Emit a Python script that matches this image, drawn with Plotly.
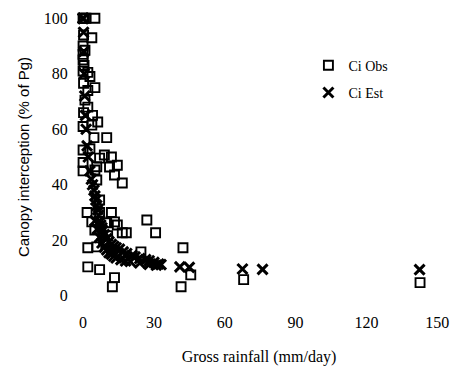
import plotly.graph_objects as go

# Observed canopy interception (Ci Obs)
obs_x = [0, 0.5, 1.2, 5.0, 0.2, 3.7, 0, 0, 0.8, 0, 0.4, 0, 2.0, 2.9, 0.2, 5.0, 2.0, 0.8, 2.0, 0.2,
         4.0, 6.2, 0, 3.7, 10.0, 4.6, 0, 2.9, 0, 0, 5.8, 7.0, 9.0, 12.0, 14.5, 11.2, 13.3, 16.6, 5.8,
         5.0, 7.0, 1.7, 7.0, 12.0, 13.3, 14.5, 10.0, 18.3, 16.6, 27.0, 30.7, 2.0, 5.8, 12.0, 24.5,
         2.0, 7.0, 13.3, 12.4, 8.7, 10.4, 5.0, 3.7, 42.3, 41.5, 45.6, 68.0, 142.7]
obs_y = [100, 100, 100, 100, 94, 93, 90, 87, 88.5, 85, 83, 81, 80.5, 79, 76.6, 75, 74, 70.5, 68, 66,
         65, 62.6, 61, 61.5, 57, 57, 52.5, 53, 48, 45, 46.5, 49.6, 50.7, 50, 47, 46.4, 43.5, 40.6, 41.7,
         45.3, 34.5, 30, 30, 30, 26.6, 25.5, 26.3, 22.7, 22.7, 27.3, 22.7, 17.3, 17.6, 16.5, 15.8,
         10.4, 9.4, 6.5, 3.2, 20, 21.6, 23.7, 26.6, 17.3, 3.2, 7.5, 5.8, 4.7]

# Estimated canopy interception (Ci Est)
est_x = [0, 0, 0, 0.2, 0.3, 0.5, 0.7, 1.0, 1.3, 1.7, 2.2, 2.9, 3.5, 4.0, 4.6, 5.0, 5.4, 5.8, 6.2,
         6.6, 7.0, 7.5, 8.0, 8.3, 9, 10, 11, 12, 13, 14, 15.4, 17, 18.5, 20.7, 22, 24, 26.5, 28, 30,
         32, 33, 5, 6, 7, 8, 9, 10, 11, 12, 13, 14, 16, 18, 20, 24, 28, 31,
         41, 45, 67.5, 76, 142.5]
est_y = [100, 100, 100, 95, 88, 80, 72, 65, 60, 54, 50, 45, 42, 40, 38, 36, 34.5, 32.5, 31,
         29, 27, 25.5, 24.5, 23.5, 22, 20.5, 19.5, 18.5, 17.8, 17.3, 16.8, 15.8, 15.2, 14.5, 14, 13.4,
         13, 12.6, 12, 11.4, 11.2, 27, 24, 21, 19, 17.5, 16.5, 15.5, 15, 14.2, 13.6, 13, 12.5, 12.3,
         11.8, 11.3, 11, 10.4, 10.2, 9.6, 9.5, 9.4]

x_ticks = [0, 30, 60, 90, 120, 150]
y_ticks = [0, 20, 40, 60, 80, 100]

FONT = "Liberation Serif"

fig = go.Figure()
fig.add_trace(go.Scatter(
    x=obs_x, y=obs_y, mode="markers", name="Ci Obs", legendgroup="a",
    marker=dict(symbol="square-open", size=9, color="black", line=dict(width=1.9, color="black")),
    cliponaxis=False,
))
fig.add_trace(go.Scatter(
    x=est_x, y=est_y, mode="markers", name="Ci Est", legendgroup="b",
    marker=dict(symbol="x-thin-open", size=10, color="black", line=dict(width=3, color="black")),
    cliponaxis=False,
))

fig.update_layout(
    width=459, height=372,
    margin=dict(l=76, r=10, t=10, b=68),
    paper_bgcolor="white", plot_bgcolor="white",
    font=dict(family=FONT, color="black", size=15),
    showlegend=True,
    legend=dict(x=0.635, y=0.865, xanchor="left", yanchor="top",
                font=dict(family=FONT, size=14, color="black"),
                bgcolor="rgba(0,0,0,0)", tracegroupgap=6, itemwidth=30),
    xaxis=dict(range=[-3, 152], tickvals=x_ticks, ticktext=[str(v) for v in x_ticks],
               showgrid=False, zeroline=False, showline=False,
               ticks="outside", ticklen=4, tickcolor="white",
               tickfont=dict(family=FONT, size=16),
               title=dict(text="Gross rainfall (mm/day)", font=dict(family=FONT, size=16), standoff=20)),
    yaxis=dict(range=[-3, 103], tickvals=y_ticks, ticktext=[str(v) for v in y_ticks],
               showgrid=False, zeroline=False, showline=False,
               ticks="outside", ticklen=4, tickcolor="white",
               tickfont=dict(family=FONT, size=16),
               title=dict(text="Canopy interception (% of Pg)", font=dict(family="Liberation Sans", size=15), standoff=10)),
)

fig.write_html("out.html")
